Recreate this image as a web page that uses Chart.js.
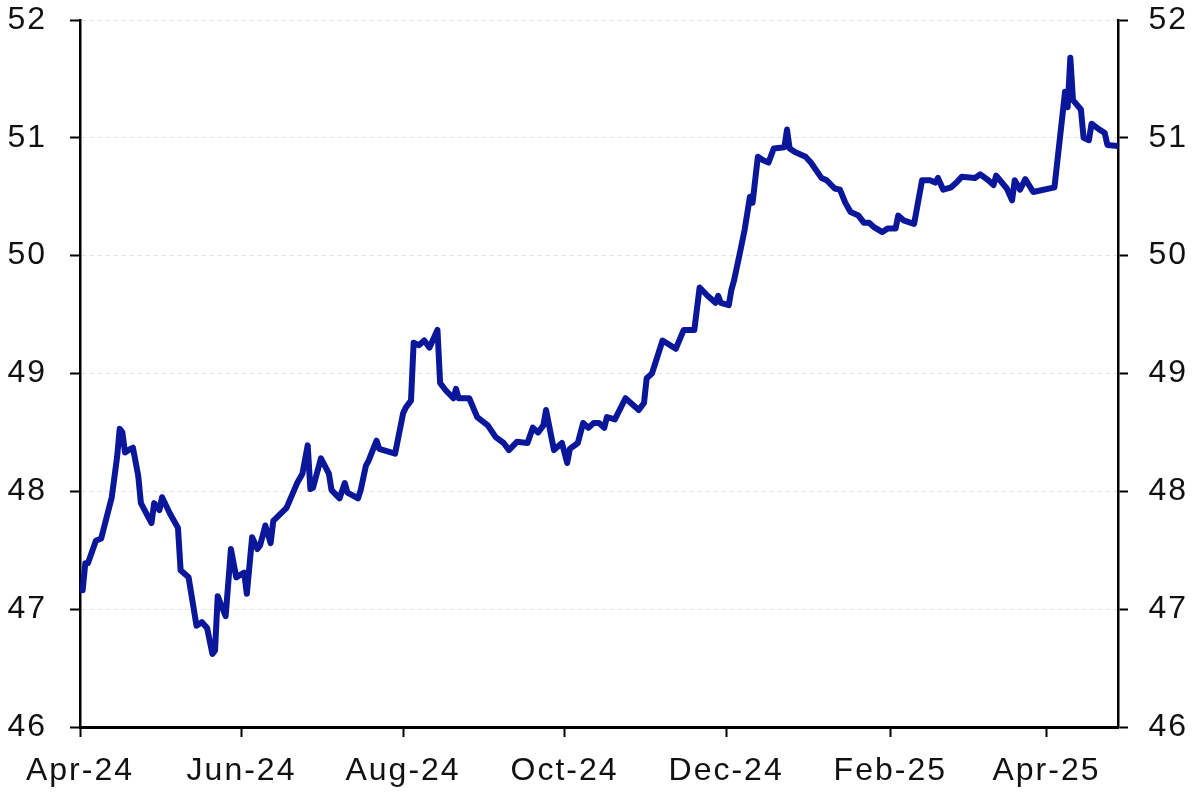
<!DOCTYPE html>
<html>
<head>
<meta charset="utf-8">
<script src="https://cdn.jsdelivr.net/npm/chart.js@4.4.1/dist/chart.umd.min.js"></script>
<style>
  html, body { margin: 0; padding: 0; background: #fff; }
  #wrap { width: 1200px; height: 799px; }
</style>
</head>
<body>
<div id="wrap"><canvas id="myChart"></canvas></div>
<script>
// days counted from 1 Apr 2024
var days = [
    1, 2, 3, 6, 8, 12, 14, 15, 16, 17,
    19, 20, 22, 23, 27, 28, 30, 31, 34, 37,
    38, 41, 44, 46, 48, 50, 51, 52, 55, 57,
    59, 62, 63, 65, 67, 68, 70, 72, 73, 78,
    82, 84, 86, 87, 88, 91, 94, 95, 98, 100,
    101, 105, 106, 108, 109, 112, 113, 119, 122, 123,
    125, 126, 128, 130, 132, 135, 136, 138, 141, 142,
    143, 147, 150, 154, 157, 160, 162, 165, 169, 171,
    173, 175, 176, 179, 182, 184, 185, 188, 190, 192,
    194, 196, 198, 199, 202, 206, 211, 213, 214, 216,
    220, 225, 228, 232, 234, 237, 240, 241, 242, 245,
    246, 247, 249, 251, 252, 253, 254, 256, 258, 260,
    262, 266, 267, 268, 270, 274, 276, 280, 282, 285,
    287, 289, 291, 294, 296, 298, 300, 303, 305, 308,
    309, 311, 315, 318, 321, 323, 324, 326, 329, 331,
    333, 338, 340, 343, 345, 346, 350, 352, 353, 355,
    357, 360, 368, 372, 373, 374, 375, 378, 379, 381,
    382, 385, 387, 388, 392
];
var values = [
    47.16, 47.39, 47.39, 47.58, 47.60, 47.95, 48.29, 48.53, 48.50, 48.33,
    48.36, 48.37, 48.13, 47.90, 47.73, 47.90, 47.84, 47.95, 47.81, 47.69,
    47.33, 47.27, 46.86, 46.89, 46.84, 46.62, 46.65, 47.11, 46.94, 47.51,
    47.27, 47.31, 47.13, 47.61, 47.51, 47.54, 47.71, 47.56, 47.75, 47.86,
    48.07, 48.15, 48.39, 48.02, 48.03, 48.28, 48.15, 48.01, 47.94, 48.07,
    47.99, 47.94, 48.01, 48.22, 48.26, 48.43, 48.36, 48.32, 48.66, 48.71,
    48.77, 49.26, 49.24, 49.28, 49.22, 49.37, 48.92, 48.86, 48.79, 48.87,
    48.79, 48.79, 48.63, 48.56, 48.46, 48.41, 48.35, 48.42, 48.41, 48.54,
    48.50, 48.56, 48.69, 48.35, 48.41, 48.24, 48.36, 48.41, 48.58, 48.54,
    48.58, 48.58, 48.54, 48.63, 48.61, 48.79, 48.69, 48.75, 48.96, 49.00,
    49.28, 49.21, 49.37, 49.37, 49.73, 49.66, 49.60, 49.66, 49.60, 49.58,
    49.71, 49.79, 50.00, 50.22, 50.36, 50.50, 50.45, 50.84, 50.81, 50.79,
    50.91, 50.92, 51.07, 50.91, 50.88, 50.84, 50.79, 50.66, 50.64, 50.57,
    50.56, 50.45, 50.37, 50.34, 50.28, 50.28, 50.24, 50.20, 50.23, 50.23,
    50.34, 50.30, 50.27, 50.64, 50.64, 50.62, 50.66, 50.56, 50.58, 50.62,
    50.67, 50.66, 50.69, 50.64, 50.60, 50.68, 50.57, 50.47, 50.64, 50.56,
    50.65, 50.54, 50.58, 51.39, 51.26, 51.68, 51.32, 51.24, 51.00, 50.98,
    51.12, 51.07, 51.04, 50.94, 50.93
];
var tickDays = [0, 61, 122, 183, 244, 306, 365];
var tickLabels = ['Apr-24', 'Jun-24', 'Aug-24', 'Oct-24', 'Dec-24', 'Feb-25', 'Apr-25'];
var yMin = 46, yMax = 52;

var points = days.map(function (d, i) { return { x: d, y: values[i] }; });

Chart.defaults.font.family = '"Liberation Sans", Arial, sans-serif';
Chart.defaults.color = '#111';

// the labels in the original are a little spaced out
var spacing = {
    id: 'spacing',
    beforeLayout: function (chart) { chart.ctx.letterSpacing = '2px'; },
    beforeDraw: function (chart) { chart.ctx.letterSpacing = '2px'; }
};

// keep the y tick padding from pushing the plot down
function noVPad(scale) {
    scale.paddingTop = 0;
    scale.paddingBottom = 0;
}

var ctx = document.getElementById('myChart').getContext('2d');
var myChart = new Chart(ctx, {
    type: 'line',
    data: {
        datasets: [{
            data: points,
            borderColor: '#0a179b',
            borderWidth: 6,
            pointRadius: 0,
            tension: 0,
            borderJoinStyle: 'round',
            borderCapStyle: 'round',
            yAxisID: 'y'
        }]
    },
    options: {
        responsive: true,
        maintainAspectRatio: false,
        animation: false,
        layout: { padding: { top: 20, left: 0, right: 12, bottom: 0 } },
        plugins: { legend: { display: false }, tooltip: { enabled: false } },
        scales: {
            x: {
                type: 'linear',
                min: 0,
                max: 392,
                afterBuildTicks: function (scale) {
                    scale.ticks = tickDays.map(function (v) { return { value: v }; });
                },
                afterFit: function (scale) { scale.height = 72; },
                ticks: {
                    autoSkip: false,
                    maxRotation: 0,
                    padding: 15,
                    font: { size: 32 },
                    callback: function (v) { return tickLabels[tickDays.indexOf(v)]; }
                },
                grid: { drawOnChartArea: false, tickLength: 10, tickColor: '#000', tickWidth: 2 },
                border: { color: '#000', width: 3 }
            },
            y: {
                position: 'left',
                min: yMin,
                max: yMax,
                afterFit: function (scale) { scale.width = 80; noVPad(scale); },
                ticks: { stepSize: 1, padding: 23, font: { size: 32 } },
                grid: { color: '#e2e2e2', lineWidth: 1, tickLength: 10, tickColor: '#000', tickWidth: 2 },
                border: { color: '#000', width: 2.5, dash: [4, 4] }
            },
            y2: {
                position: 'right',
                min: yMin,
                max: yMax,
                afterFit: function (scale) { scale.width = 70; noVPad(scale); },
                ticks: { stepSize: 1, padding: 21, crossAlign: 'far', font: { size: 32 } },
                grid: { drawOnChartArea: false, tickLength: 10, tickColor: '#000', tickWidth: 2 },
                border: { color: '#000', width: 2.5 }
            }
        }
    },
    plugins: [spacing]
});
</script>
</body>
</html>
